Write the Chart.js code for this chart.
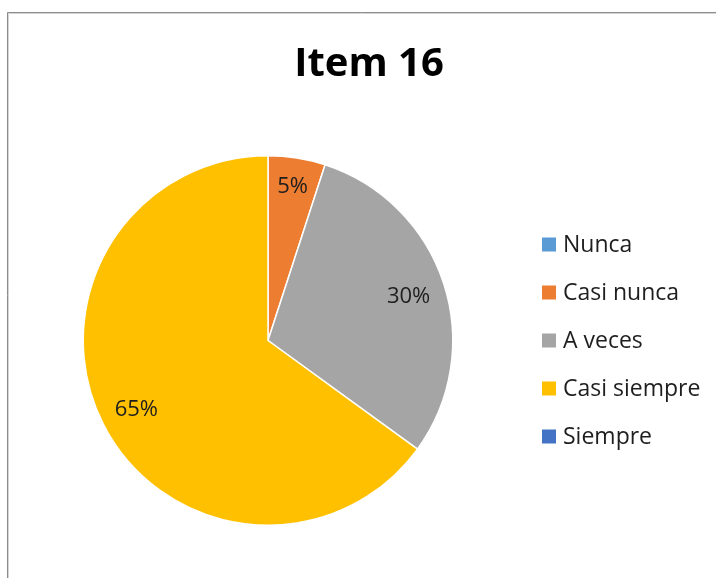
<!DOCTYPE html>
<html>
<head>
<meta charset="utf-8">
<script src="https://cdn.jsdelivr.net/npm/chart.js@4"></script>
<style>
  body { margin: 0; background: #fff; }
  #wrap { width: 716px; height: 578px; }
</style>
</head>
<body>
<div id="wrap"><canvas id="myPieChart" width="716" height="578"></canvas></div>
<script>
var chartTitle = "Item 16";
var categories = ["Nunca", "Casi nunca", "A veces", "Casi siempre", "Siempre"];
var percents = [0, 5, 30, 65, 0];
var sliceColors = ["#5B9BD5", "#ED7D31", "#A5A5A5", "#FFC000", "#4472C4"];

var FONT = "'Open Sans', 'DejaVu Sans', sans-serif";

// frame, title, labels and legend drawn by hand
var decorPlugin = {
  id: "decor",
  beforeDraw: function(chart) {
    var c = chart.ctx;
    c.save();
    c.fillStyle = "#fff";
    c.fillRect(0, 0, chart.width, chart.height);
    c.lineWidth = 1;
    c.strokeStyle = "#8c8c8c";
    c.beginPath();
    c.moveTo(7.5, chart.height);
    c.lineTo(7.5, 12.5);
    c.lineTo(chart.width, 12.5);
    c.stroke();
    c.strokeStyle = "#d4d4d4";
    c.beginPath();
    c.moveTo(8.5, chart.height);
    c.lineTo(8.5, 13.5);
    c.lineTo(chart.width, 13.5);
    c.stroke();
    c.restore();
  },
  afterDraw: function(chart) {
    var c = chart.ctx;
    c.save();
    // title
    c.fillStyle = "#000";
    c.font = "bold 40px " + FONT;
    c.textAlign = "center";
    c.textBaseline = "alphabetic";
    c.fillText(chartTitle, 369, 76);

    // slice labels (small slices pushed a bit outward, like best fit)
    var meta = chart.getDatasetMeta(0);
    c.font = "22px " + FONT;
    c.fillStyle = "#1e1e1e";
    meta.data.forEach(function(arc, i) {
      if (!percents[i]) return;
      var p = arc.getProps(["x", "y", "startAngle", "endAngle", "outerRadius"], true);
      var mid = (p.startAngle + p.endAngle) / 2;
      var r = p.outerRadius * (percents[i] < 10 ? 0.85 : 0.8);
      // baseline so the digits are centred on the point
      c.fillText(percents[i] + "%", p.x + Math.cos(mid) * r, p.y + Math.sin(mid) * r + 8);
    });

    // legend
    c.font = "23px " + FONT;
    c.textAlign = "left";
    c.textBaseline = "middle";
    categories.forEach(function(name, i) {
      var cy = 244.5 + i * 48;
      c.fillStyle = sliceColors[i];
      c.fillRect(542, cy - 7, 14, 14);
      c.fillStyle = "#1e1e1e";
      c.fillText(name, 563, cy + 1);
    });
    c.restore();
  }
};

var ctx = document.getElementById("myPieChart");
var myPieChart = new Chart(ctx, {
  type: "pie",
  data: {
    labels: categories,
    datasets: [
      {
        data: percents,
        backgroundColor: sliceColors,
        borderColor: "#fff",
        borderWidth: function(context) {
          return percents[context.dataIndex] ? 1.5 : 0;
        }
      }
    ]
  },
  options: {
    responsive: false,
    animation: false,
    layout: {
      padding: { left: 82, right: 262, top: 155, bottom: 52 }
    },
    plugins: {
      legend: { display: false },
      title: { display: false },
      tooltip: { enabled: false }
    }
  },
  plugins: [decorPlugin]
});
</script>
</body>
</html>
